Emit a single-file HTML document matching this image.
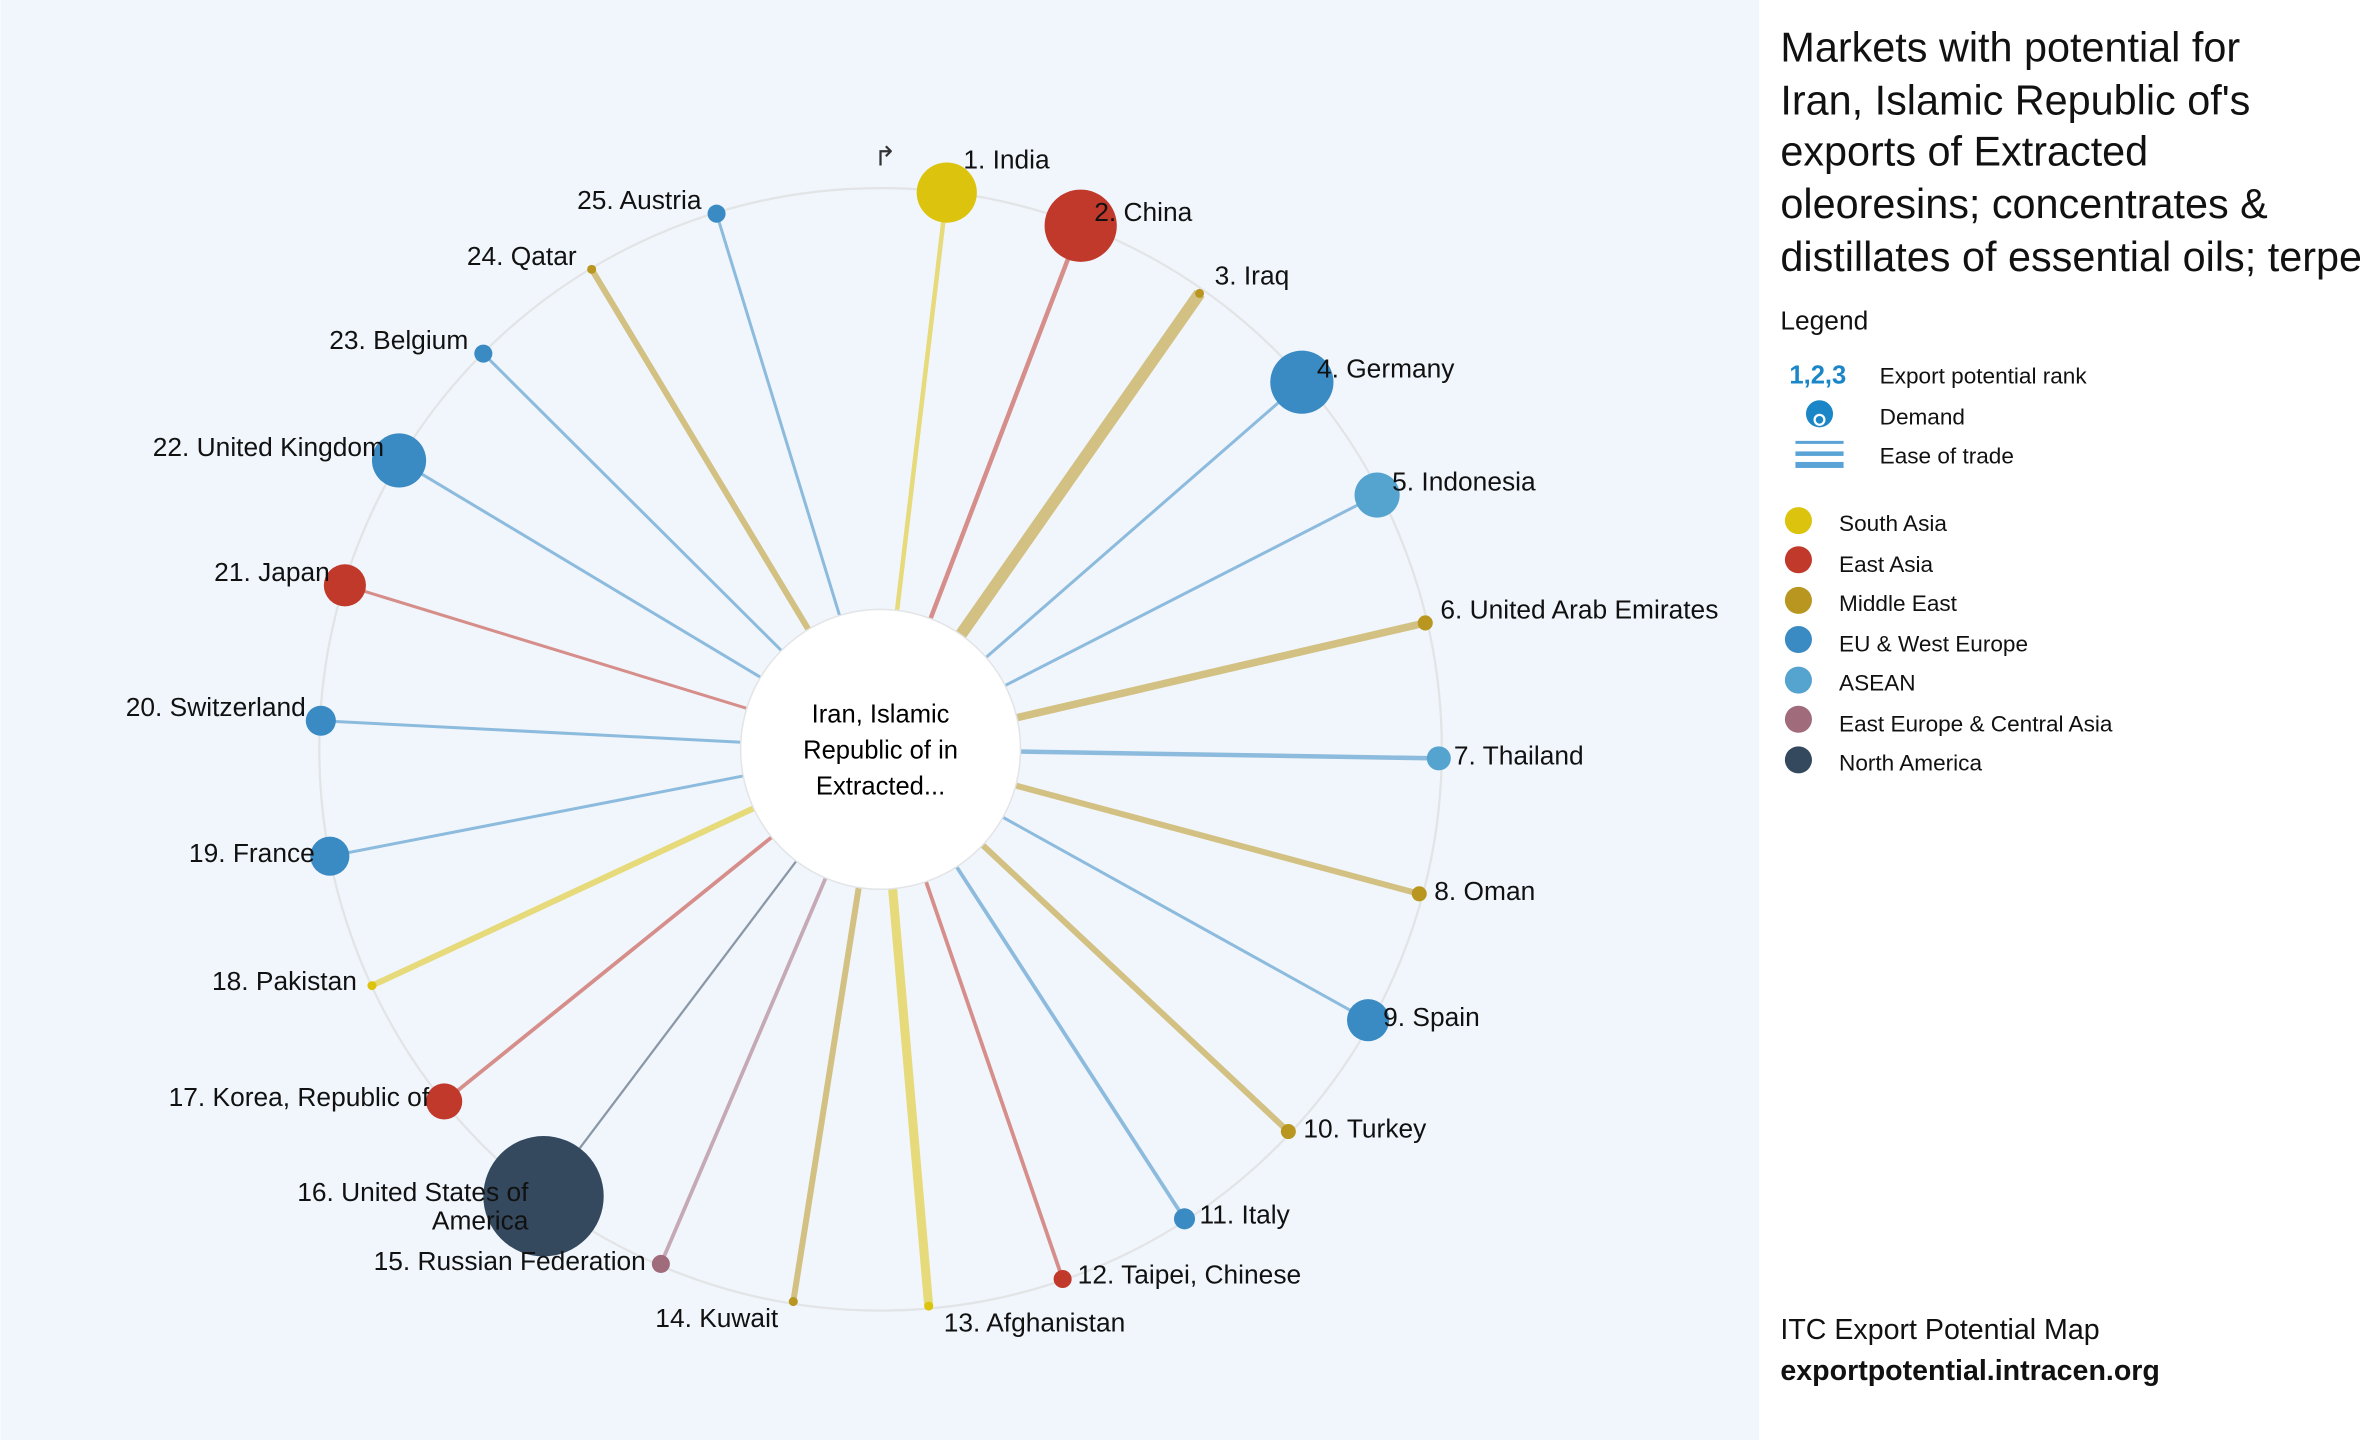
<!DOCTYPE html>
<html><head><meta charset="utf-8"><style>
html,body{margin:0;padding:0;background:#fff;}
svg{display:block;font-family:"Liberation Sans",Arial,sans-serif;}
</style></head><body>
<svg width="2360" height="1440" viewBox="0 0 1568 957" xmlns="http://www.w3.org/2000/svg">
<rect x="0" y="0" width="1169" height="957" fill="#f1f6fc"/>
<rect x="1169" y="0" width="399" height="957" fill="#fff"/>
<circle cx="585" cy="498" r="373" fill="none" stroke="#e2e4e6" stroke-width="1.5"/>
<g stroke-opacity="0.55" stroke-linecap="butt">
<line x1="585" y1="498" x2="629" y2="128" stroke="#dcc30e" stroke-width="3"/>
<line x1="585" y1="498" x2="718" y2="150" stroke="#c0392b" stroke-width="3"/>
<line x1="585" y1="498" x2="797" y2="195" stroke="#b8961f" stroke-width="8"/>
<line x1="585" y1="498" x2="865" y2="254" stroke="#3a8ac4" stroke-width="2"/>
<line x1="585" y1="498" x2="915" y2="329" stroke="#3a8ac4" stroke-width="2"/>
<line x1="585" y1="498" x2="947" y2="414" stroke="#b8961f" stroke-width="5"/>
<line x1="585" y1="498" x2="956" y2="504" stroke="#3a8ac4" stroke-width="3"/>
<line x1="585" y1="498" x2="943" y2="594" stroke="#b8961f" stroke-width="4"/>
<line x1="585" y1="498" x2="909" y2="678" stroke="#3a8ac4" stroke-width="2"/>
<line x1="585" y1="498" x2="856" y2="752" stroke="#b8961f" stroke-width="4"/>
<line x1="585" y1="498" x2="787" y2="810" stroke="#3a8ac4" stroke-width="2.5"/>
<line x1="585" y1="498" x2="706" y2="850" stroke="#c0392b" stroke-width="2.5"/>
<line x1="585" y1="498" x2="617" y2="868" stroke="#dcc30e" stroke-width="6"/>
<line x1="585" y1="498" x2="527" y2="865" stroke="#b8961f" stroke-width="4"/>
<line x1="585" y1="498" x2="439" y2="840" stroke="#a06b7a" stroke-width="2.5"/>
<line x1="585" y1="498" x2="361" y2="795" stroke="#34495e" stroke-width="1.5"/>
<line x1="585" y1="498" x2="295" y2="732" stroke="#c0392b" stroke-width="2.5"/>
<line x1="585" y1="498" x2="247" y2="655" stroke="#dcc30e" stroke-width="4"/>
<line x1="585" y1="498" x2="219" y2="569" stroke="#3a8ac4" stroke-width="2"/>
<line x1="585" y1="498" x2="213" y2="479" stroke="#3a8ac4" stroke-width="2"/>
<line x1="585" y1="498" x2="229" y2="389" stroke="#c0392b" stroke-width="2"/>
<line x1="585" y1="498" x2="265" y2="306" stroke="#3a8ac4" stroke-width="2"/>
<line x1="585" y1="498" x2="321" y2="235" stroke="#3a8ac4" stroke-width="2"/>
<line x1="585" y1="498" x2="393" y2="179" stroke="#b8961f" stroke-width="4"/>
<line x1="585" y1="498" x2="476" y2="142" stroke="#3a8ac4" stroke-width="2"/>
</g>
<circle cx="585" cy="498" r="93" fill="#fff" stroke="#e2e4e6" stroke-width="1"/>
<text x="585" y="480" text-anchor="middle" font-size="17">Iran, Islamic</text>
<text x="585" y="504" text-anchor="middle" font-size="17">Republic of in</text>
<text x="585" y="528" text-anchor="middle" font-size="17">Extracted...</text>
<g>
<circle cx="629" cy="128" r="20" fill="#dcc30e"/>
<circle cx="718" cy="150" r="24" fill="#c0392b"/>
<circle cx="797" cy="195" r="3" fill="#b8961f"/>
<circle cx="865" cy="254" r="21" fill="#3a8ac4"/>
<circle cx="915" cy="329" r="15" fill="#55a3cf"/>
<circle cx="947" cy="414" r="5" fill="#b8961f"/>
<circle cx="956" cy="504" r="8" fill="#55a3cf"/>
<circle cx="943" cy="594" r="5" fill="#b8961f"/>
<circle cx="909" cy="678" r="14" fill="#3a8ac4"/>
<circle cx="856" cy="752" r="5" fill="#b8961f"/>
<circle cx="787" cy="810" r="7" fill="#3a8ac4"/>
<circle cx="706" cy="850" r="6" fill="#c0392b"/>
<circle cx="617" cy="868" r="3" fill="#dcc30e"/>
<circle cx="527" cy="865" r="3" fill="#b8961f"/>
<circle cx="439" cy="840" r="6" fill="#a06b7a"/>
<circle cx="361" cy="795" r="40" fill="#34495e"/>
<circle cx="295" cy="732" r="12" fill="#c0392b"/>
<circle cx="247" cy="655" r="3" fill="#dcc30e"/>
<circle cx="219" cy="569" r="13" fill="#3a8ac4"/>
<circle cx="213" cy="479" r="10" fill="#3a8ac4"/>
<circle cx="229" cy="389" r="14" fill="#c0392b"/>
<circle cx="265" cy="306" r="18" fill="#3a8ac4"/>
<circle cx="321" cy="235" r="6" fill="#3a8ac4"/>
<circle cx="393" cy="179" r="3" fill="#b8961f"/>
<circle cx="476" cy="142" r="6" fill="#3a8ac4"/>
</g>
<g font-size="17.5" fill="#111">
<text x="640" y="112">1. India</text>
<text x="727" y="147">2. China</text>
<text x="807" y="189">3. Iraq</text>
<text x="875" y="251">4. Germany</text>
<text x="925" y="326">5. Indonesia</text>
<text x="957" y="411">6. United Arab Emirates</text>
<text x="966" y="508">7. Thailand</text>
<text x="953" y="598">8. Oman</text>
<text x="919" y="682">9. Spain</text>
<text x="866" y="756">10. Turkey</text>
<text x="797" y="813">11. Italy</text>
<text x="716" y="853">12. Taipei, Chinese</text>
<text x="627" y="885">13. Afghanistan</text>
<g text-anchor="end">
<text x="517" y="882">14. Kuwait</text>
<text x="429" y="844">15. Russian Federation</text>
<text x="351" y="798">16. United States of</text>
<text x="351" y="817">America</text>
<text x="285" y="735">17. Korea, Republic of</text>
<text x="237" y="658">18. Pakistan</text>
<text x="209" y="573">19. France</text>
<text x="203" y="476">20. Switzerland</text>
<text x="219" y="386">21. Japan</text>
<text x="255" y="303">22. United Kingdom</text>
<text x="311" y="232">23. Belgium</text>
<text x="383" y="176">24. Qatar</text>
<text x="466" y="139">25. Austria</text>
</g>
</g>
<text x="588" y="110" font-size="18" text-anchor="middle" fill="#333">↱</text>
<g font-size="27.5" fill="#111">
<text x="1183" y="41">Markets with potential for</text>
<text x="1183" y="76">Iran, Islamic Republic of's</text>
<text x="1183" y="110">exports of Extracted</text>
<text x="1183" y="145">oleoresins; concentrates &amp;</text>
<text x="1183" y="180">distillates of essential oils; terpe</text>
</g>
<text x="1183" y="219" font-size="17.5" fill="#111">Legend</text>
<text x="1189" y="255" font-size="17" font-weight="bold" fill="#1a86c8">1,2,3</text>
<text x="1249" y="255" font-size="15" fill="#111">Export potential rank</text>
<circle cx="1209" cy="275" r="9" fill="#1a86c8"/>
<circle cx="1209" cy="279" r="4" fill="#fff"/>
<circle cx="1209" cy="279" r="2.5" fill="#1a86c8"/>
<text x="1249" y="282" font-size="15" fill="#111">Demand</text>
<rect x="1193" y="293" width="32" height="2" fill="#5aa3d6"/>
<rect x="1193" y="300" width="32" height="3" fill="#5aa3d6"/>
<rect x="1193" y="307" width="32" height="4" fill="#5aa3d6"/>
<text x="1249" y="308" font-size="15" fill="#111">Ease of trade</text>
<g font-size="15" fill="#111">
<circle cx="1195" cy="346" r="9" fill="#dcc30e"/><text x="1222" y="353">South Asia</text>
<circle cx="1195" cy="372" r="9" fill="#c0392b"/><text x="1222" y="380">East Asia</text>
<circle cx="1195" cy="399" r="9" fill="#b8961f"/><text x="1222" y="406">Middle East</text>
<circle cx="1195" cy="425" r="9" fill="#3a8ac4"/><text x="1222" y="433">EU &amp; West Europe</text>
<circle cx="1195" cy="452" r="9" fill="#55a3cf"/><text x="1222" y="459">ASEAN</text>
<circle cx="1195" cy="478" r="9" fill="#a06b7a"/><text x="1222" y="486">East Europe &amp; Central Asia</text>
<circle cx="1195" cy="505" r="9" fill="#34495e"/><text x="1222" y="512">North America</text>
</g>
<text x="1183" y="890" font-size="19" fill="#111">ITC Export Potential Map</text>
<text x="1183" y="917" font-size="19" font-weight="bold" fill="#111">exportpotential.intracen.org</text>
</svg>
</body></html>
